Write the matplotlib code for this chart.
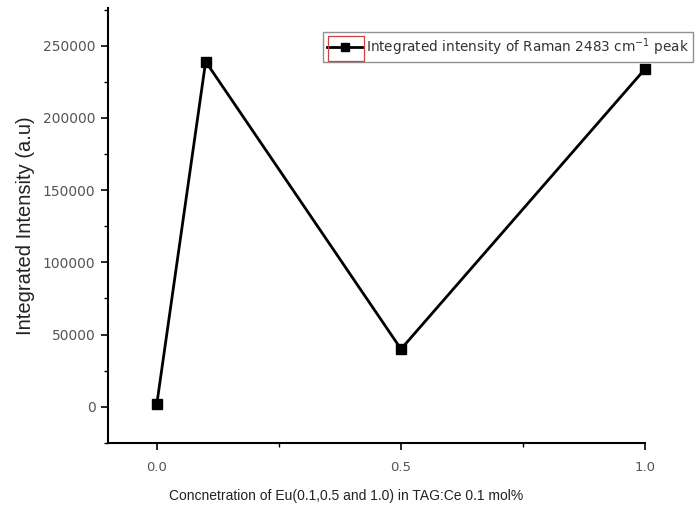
import matplotlib
matplotlib.use("Agg")
import matplotlib.pyplot as plt
from matplotlib.patches import Rectangle
from matplotlib.ticker import MultipleLocator

# Eu concentration (mol%) and integrated Raman intensity
eu_conc = [0.0, 0.1, 0.5, 1.0]
intensity = [2000, 239000, 40000, 234000]
x_ticks = [0.0, 0.5, 1.0]
x_tick_labels = ["0.0", "0.5", "1.0"]
y_ticks = [0, 50000, 100000, 150000, 200000, 250000]

plt.rcParams["font.family"] = ["Liberation Sans", "DejaVu Sans"]

fig = plt.figure(figsize=(6.99, 5.05), dpi=100)
ax = fig.add_axes([0.1545, 0.1228, 0.7685, 0.8612])

ax.plot(eu_conc, intensity, color="black", lw=2, marker="s", ms=7,
        mfc="black", mec="black", clip_on=False,
        label="Integrated intensity of Raman 2483 cm$^{-1}$ peak")

ax.set_xlim(-0.1, 1.0)
ax.set_ylim(-25000, 276000)
ax.set_xticks(x_ticks)
ax.set_xticklabels(x_tick_labels)
ax.set_yticks(y_ticks)
ax.xaxis.set_minor_locator(MultipleLocator(0.25))
ax.yaxis.set_minor_locator(MultipleLocator(25000))

for s in ("top", "right"):
    ax.spines[s].set_visible(False)
for s in ("left", "bottom"):
    ax.spines[s].set_linewidth(1.5)

ax.tick_params(which="major", direction="out", length=5, width=1.2,
               labelcolor="#555555")
ax.tick_params(which="minor", direction="out", length=3, width=1.0)
ax.tick_params(axis="y", which="major", pad=4)
ax.tick_params(axis="x", which="major", pad=8)
for lab in ax.get_yticklabels():
    lab.set_fontfamily("DejaVu Sans")
    lab.set_fontsize(10)
for lab in ax.get_xticklabels():
    lab.set_fontfamily("DejaVu Sans")
    lab.set_fontsize(9.5)

ax.set_ylabel("Integrated Intensity (a.u)", fontsize=14.5, color="#222222",
              labelpad=6)
ax.set_xlabel("Concnetration of Eu(0.1,0.5 and 1.0) in TAG:Ce 0.1 mol%",
              fontsize=10, color="#222222", labelpad=11, x=0.443)

leg = ax.legend(loc="upper left", bbox_to_anchor=(0.400, 0.945),
                borderaxespad=0, frameon=True, fancybox=False,
                prop={"family": "DejaVu Sans", "size": 9.8},
                handlelength=2.6, handletextpad=0.3, borderpad=0.3,
                markerscale=0.75, edgecolor="#777777")
leg.get_frame().set_linewidth(1.0)
for t in leg.get_texts():
    t.set_color("#333333")

# red outline around the legend handle
fig.canvas.draw()
r = fig.canvas.get_renderer()
tb = leg.get_texts()[0].get_window_extent(r)
fb = leg.get_frame().get_window_extent(r)
x0 = fb.x0 + 5
x1 = tb.x0 - 2
y0 = fb.y0 + 1
y1 = fb.y1 - 4
rect = Rectangle((x0, y0), x1 - x0, y1 - y0, transform=None,
                 fill=False, edgecolor="#d04040", lw=0.9)
fig.patches.append(rect)

fig.savefig("out.png", dpi=100)
